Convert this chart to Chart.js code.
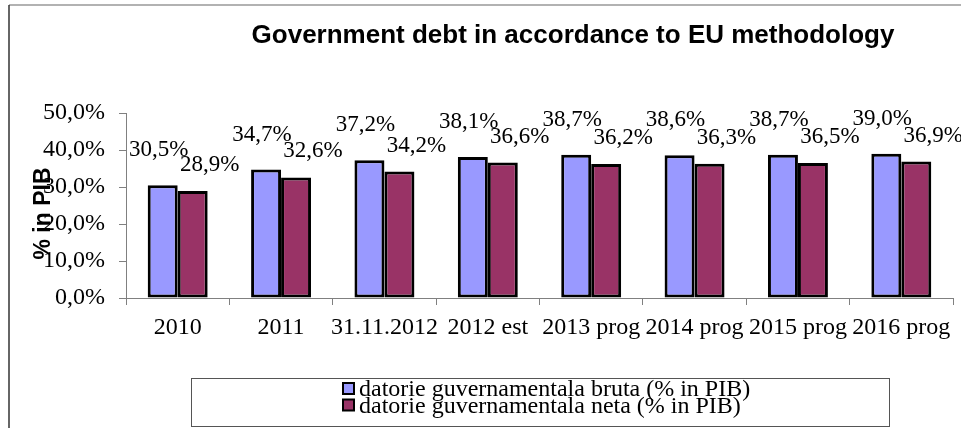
<!DOCTYPE html>
<html>
<head>
<meta charset="utf-8">
<script src="https://cdn.jsdelivr.net/npm/chart.js@4.4.1/dist/chart.umd.min.js"></script>
<style>
    html, body { margin: 0; padding: 0; background: #fff; }
    #wrap { width: 961px; height: 428px; position: relative; }
</style>
</head>
<body>
<div id="wrap"><canvas id="debtChart"></canvas></div>
<script>
const categories = ['2010', '2011', '31.11.2012', '2012 est', '2013 prog', '2014 prog', '2015 prog', '2016 prog'];
const grossDebt = [30.5, 34.7, 37.2, 38.1, 38.7, 38.6, 38.7, 39.0];
const netDebt = [28.9, 32.6, 34.2, 36.6, 36.2, 36.3, 36.5, 36.9];
const seriesNames = ['datorie guvernamentala bruta (% in PIB)', 'datorie guvernamentala neta (% in PIB)'];
const chartTitle = 'Government debt in accordance to EU methodology';
const yAxisTitle = '% in PIB';

const serif = '"Liberation Serif", "Times New Roman", serif';
const sans = '"Liberation Sans", Arial, sans-serif';

function pct(v) {
    return v.toFixed(1).replace('.', ',') + '%';
}

// labels above the bars, title, axis title, legend box and frame
const decorPlugin = {
    id: 'decor',
    afterDatasetsDraw(chart) {
        const ctx = chart.ctx;
        const area = chart.chartArea;
        ctx.save();

        // value labels
        const shifts = [{dx: -4, dy: 35}, {dx: 17, dy: 26}];
        ctx.font = '23px ' + serif;
        ctx.fillStyle = '#000';
        ctx.textAlign = 'center';
        ctx.textBaseline = 'middle';
        chart.data.datasets.forEach((ds, i) => {
            chart.getDatasetMeta(i).data.forEach((bar, j) => {
                ctx.fillText(pct(ds.data[j]), bar.x + shifts[i].dx, bar.y - shifts[i].dy);
            });
        });

        // frame
        ctx.lineWidth = 1.5;
        ctx.strokeStyle = '#999';
        ctx.beginPath();
        ctx.moveTo(9, 5);
        ctx.lineTo(chart.width, 5);
        ctx.stroke();
        ctx.strokeStyle = '#333';
        ctx.beginPath();
        ctx.moveTo(9, 5);
        ctx.lineTo(9, chart.height);
        ctx.stroke();

        // title
        ctx.font = 'bold 26px ' + sans;
        ctx.textBaseline = 'alphabetic';
        ctx.fillText(chartTitle, 573, 43);

        // y axis title
        ctx.save();
        ctx.translate(area.left - 82, (area.top + area.bottom) / 2 + 8);
        ctx.rotate(-Math.PI / 2);
        ctx.font = 'bold 23px ' + sans;
        ctx.textBaseline = 'middle';
        ctx.fillText(yAxisTitle, 0, 0);
        ctx.restore();

        // legend
        ctx.lineWidth = 1;
        ctx.strokeStyle = '#555';
        ctx.strokeRect(191.5, 378.5, 698, 48);
        ctx.font = '24px ' + serif;
        ctx.textAlign = 'left';
        ctx.textBaseline = 'middle';
        chart.data.datasets.forEach((ds, i) => {
            const y = 389 + i * 16.5;
            ctx.fillStyle = ds.backgroundColor;
            ctx.fillRect(343, y - 6, 11, 11);
            ctx.lineWidth = 2;
            ctx.strokeStyle = '#000';
            ctx.strokeRect(343, y - 6, 11, 11);
            ctx.fillStyle = '#000';
            ctx.fillText(ds.label, 359, y + 1);
        });

        ctx.restore();
    }
};

const ctx = document.getElementById('debtChart').getContext('2d');
new Chart(ctx, {
    type: 'bar',
    data: {
        labels: categories,
        datasets: [{
            label: seriesNames[0],
            data: grossDebt,
            backgroundColor: '#9999FF',
            borderColor: '#000',
            borderWidth: 3,
            borderSkipped: false
        }, {
            label: seriesNames[1],
            data: netDebt,
            backgroundColor: '#993366',
            borderColor: '#000',
            borderWidth: 3,
            borderSkipped: false
        }]
    },
    options: {
        responsive: true,
        maintainAspectRatio: false,
        animation: false,
        datasets: {
            bar: {
                categoryPercentage: 0.58,
                barPercentage: 1.0
            }
        },
        layout: {
            padding: { left: 10, right: 8, top: 113, bottom: 0 }
        },
        scales: {
            x: {
                afterFit: function (scale) { scale.height = 130; },
                grid: {
                    offset: true,
                    drawOnChartArea: false,
                    drawTicks: true,
                    tickLength: 7,
                    color: '#808080'
                },
                border: { color: '#808080', width: 1 },
                ticks: {
                    color: '#000',
                    padding: 8,
                    font: { family: serif, size: 24 },
                    maxRotation: 0,
                    autoSkip: false
                }
            },
            y: {
                min: 0,
                max: 50,
                afterFit: function (scale) { scale.width = 116; },
                grid: {
                    drawOnChartArea: false,
                    drawTicks: true,
                    tickLength: 7,
                    color: '#808080'
                },
                border: { color: '#808080', width: 1 },
                ticks: {
                    stepSize: 10,
                    color: '#000',
                    padding: 14,
                    font: { family: serif, size: 24 },
                    callback: function (value) { return pct(value); }
                }
            }
        },
        plugins: {
            legend: { display: false },
            title: { display: false },
            tooltip: { enabled: false }
        }
    },
    plugins: [decorPlugin]
});
</script>
</body>
</html>
